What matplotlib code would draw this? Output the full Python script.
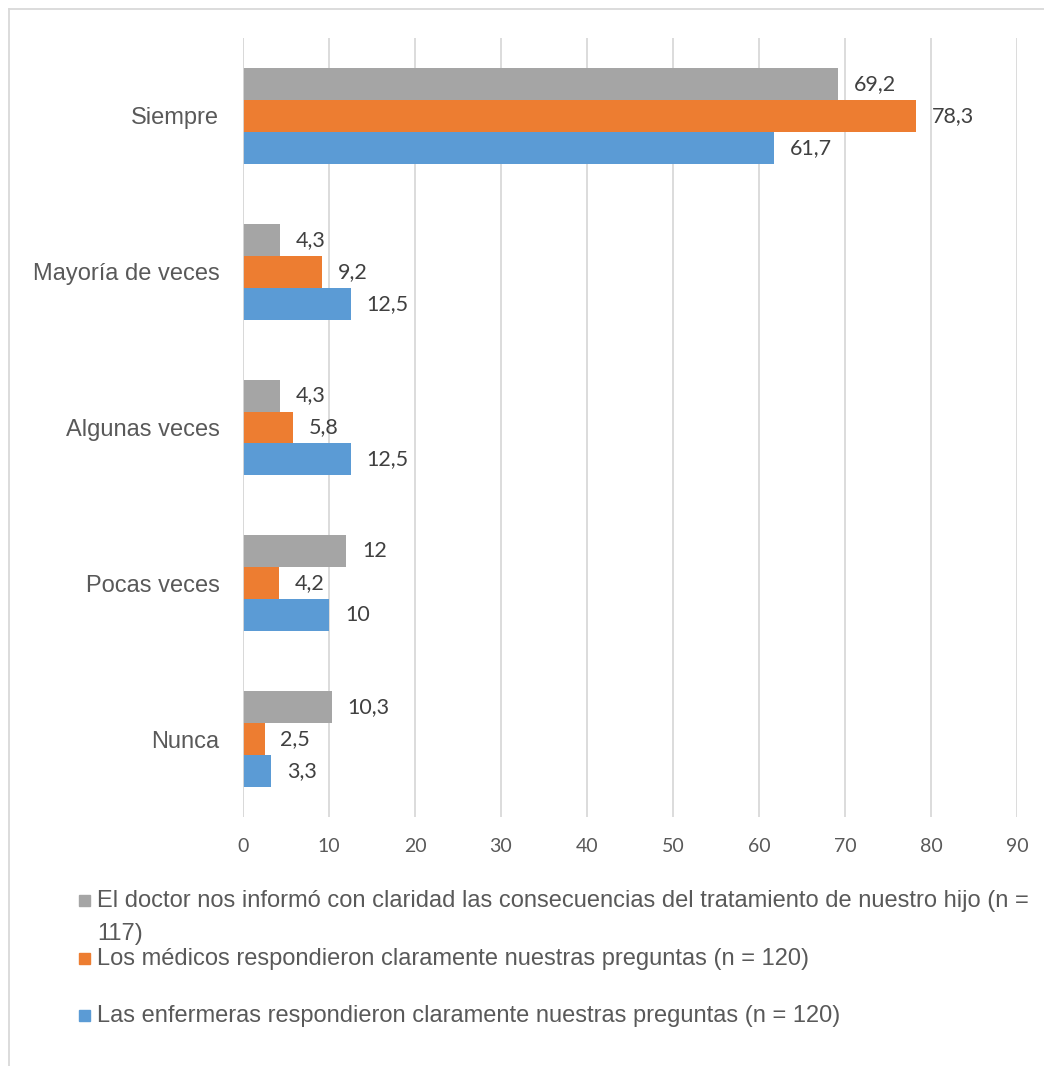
import matplotlib
matplotlib.use("Agg")
import matplotlib.pyplot as plt
from matplotlib.patches import Rectangle
from matplotlib.lines import Line2D
import numpy as np

categorias = ["Siempre", "Mayoría de veces", "Algunas veces", "Pocas veces", "Nunca"]
series = [
    "El doctor nos informó con claridad las consecuencias del tratamiento de nuestro hijo (n =\n117)",
    "Los médicos respondieron claramente nuestras preguntas (n = 120)",
    "Las enfermeras respondieron claramente nuestras preguntas (n = 120)",
]
doctor = [69.2, 4.3, 4.3, 12, 10.3]
medicos = [78.3, 9.2, 5.8, 4.2, 2.5]
enfermeras = [61.7, 12.5, 12.5, 10, 3.3]
colores = ["#A5A5A5", "#ED7D31", "#5B9BD5"]

W, H = 1044, 1066
fig = plt.figure(figsize=(W / 100, H / 100), dpi=100)
ax = fig.add_axes([243 / W, 1 - 817 / H, (1017 - 243) / W, (817 - 38) / H])

y = np.arange(len(categorias))[::-1].astype(float)
h = 0.205
for i, (vals, col) in enumerate(zip([doctor, medicos, enfermeras], colores)):
    pos = y + h * (1 - i)
    ax.barh(pos, vals, height=h, color=col, zorder=3)
    for p, v in zip(pos, vals):
        txt = f"{v:g}".replace(".", ",")
        ax.annotate(txt, (v, p), xytext=(11.5, 0), textcoords="offset points",
                    va="center", ha="left", fontsize=15.5, color="#404040",
                    family="Lato")

ax.set_xlim(0, 90)
ax.set_ylim(-0.5, len(categorias) - 0.5)
ax.set_xticks(range(0, 91, 10))
ax.set_yticks(y)
ax.set_yticklabels(categorias, fontsize=17, color="#595959", family="Liberation Sans")
ax.tick_params(axis="y", length=0, pad=17)
ax.tick_params(axis="x", length=0, pad=15, labelsize=14, labelcolor="#595959")
for lab in ax.get_xticklabels():
    lab.set_family("Lato")
ax.grid(axis="x", color="#D9D9D9", linewidth=1.3, zorder=0)
for s in ax.spines.values():
    s.set_visible(False)
ax.axvline(0, color="#D9D9D9", linewidth=1.3, zorder=4)

# leyenda dibujada a mano (línea base de cada entrada, en píxeles)
leg_y = [907, 965, 1022]
for lab, col, yy in zip(series, colores, leg_y):
    fig.patches.append(Rectangle((79 / W, 1 - (yy - 1) / H), 11 / W, 11 / H,
                                 transform=fig.transFigure, color=col))
    for k, linea in enumerate(lab.split("\n")):
        fig.text(97 / W, 1 - (yy + 33 * k) / H, linea, fontsize=17, color="#595959",
                 family="Liberation Sans", va="baseline", ha="left")

# marco del gráfico
fig.lines.append(Line2D([9 / W, 1], [1 - 9 / H] * 2, transform=fig.transFigure,
                        color="#D9D9D9", linewidth=1.3))
fig.lines.append(Line2D([9 / W] * 2, [0, 1 - 9 / H], transform=fig.transFigure,
                        color="#D9D9D9", linewidth=1.3))

fig.savefig("out.png", dpi=100)
